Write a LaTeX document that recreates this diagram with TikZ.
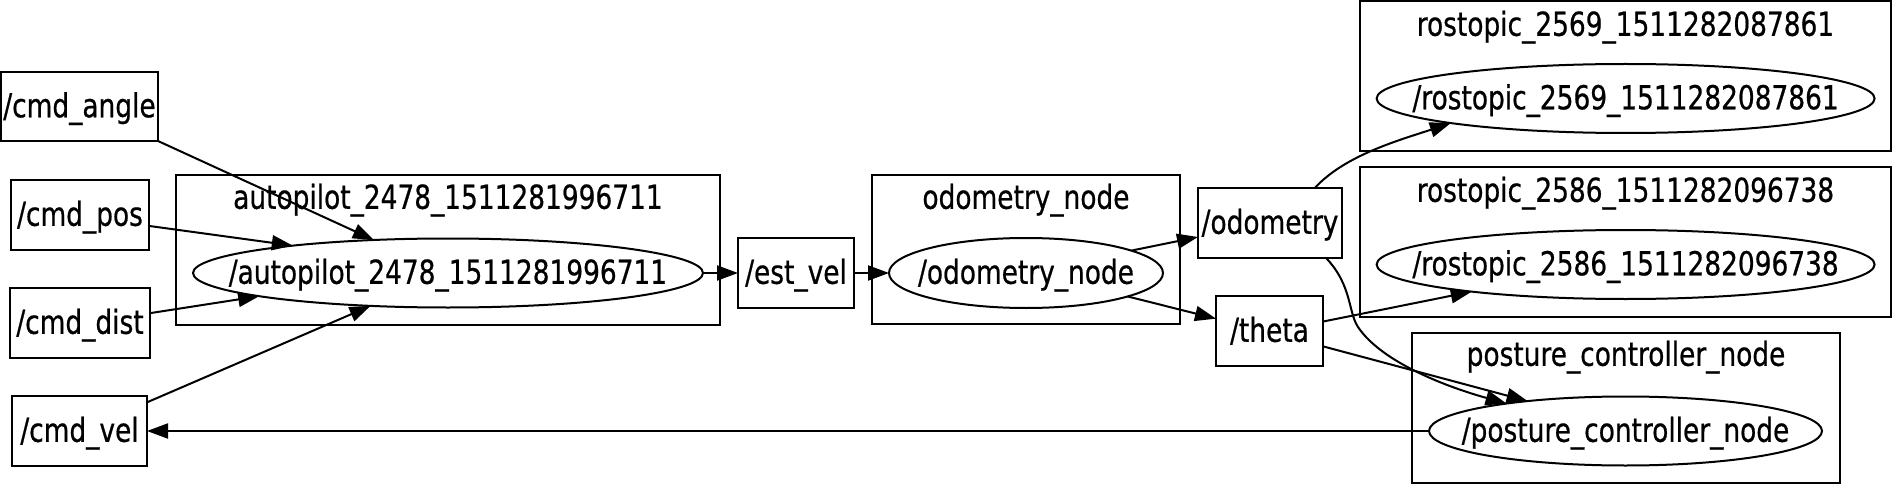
\documentclass[tikz,border=0pt]{standalone}
\usepackage{fontspec}
\setmainfont{DejaVu Sans Condensed}[FakeStretch=0.89,FakeBold=0.6]
\usetikzlibrary{arrows.meta,shapes.geometric}
\begin{document}
\begin{tikzpicture}[x=1pt,y=-1pt,
  every node/.style={font=\fontsize{33}{36}\selectfont, inner sep=0pt, outer sep=0pt,
    text height=27pt, text depth=5.4pt},
  topic/.style={draw, line width=2pt, rectangle},
  rosnode/.style={draw, line width=2pt, ellipse},
  cluster/.style={draw, line width=2pt, rectangle},
  conn/.style={line width=2pt, -{Triangle[length=21pt,width=15pt]}},
]
\useasboundingbox (0,0) rectangle (1893,484);

% clusters
\node[cluster, minimum width=544pt, minimum height=150pt] (autocl) at (448,250) {};
\node (autolbl) at (448,198) {autopilot\_2478\_1511281996711};
\node[cluster, minimum width=308pt, minimum height=149pt] (odomcl) at (1026,249.5) {};
\node (odomlbl) at (1026,198) {odometry\_node};
\node[cluster, minimum width=531pt, minimum height=150pt] (rosAcl) at (1625.5,76) {};
\node (rosAlbl) at (1625.5,25) {rostopic\_2569\_1511282087861};
\node[cluster, minimum width=531pt, minimum height=150pt] (rosBcl) at (1625.5,242) {};
\node (rosBlbl) at (1625.5,191) {rostopic\_2586\_1511282096738};
\node[cluster, minimum width=428pt, minimum height=150pt] (postcl) at (1626,408) {};
\node (postlbl) at (1626,355) {posture\_controller\_node};

% ros nodes
\node[rosnode, minimum width=510pt, minimum height=69pt] (auto) at (448,273) {\makebox[0pt]{/autopilot\_2478\_1511281996711}};
\node[rosnode, minimum width=274pt, minimum height=70pt] (odom) at (1026,273) {\makebox[0pt]{/odometry\_node}};
\node[rosnode, minimum width=498pt, minimum height=69pt] (rosA) at (1625.6,98.5) {\makebox[0pt]{/rostopic\_2569\_1511282087861}};
\node[rosnode, minimum width=498pt, minimum height=69pt] (rosB) at (1625.6,264.5) {\makebox[0pt]{/rostopic\_2586\_1511282096738}};
\node[rosnode, minimum width=393pt, minimum height=69pt] (post) at (1625.5,431) {\makebox[0pt]{/posture\_controller\_node}};

% topics
\node[topic, minimum width=157pt, minimum height=69pt] (cmdangle) at (79.5,106.5) {\makebox[0pt]{/cmd\_angle}};
\node[topic, minimum width=138pt, minimum height=70pt] (cmdpos) at (80,215) {\makebox[0pt]{/cmd\_pos}};
\node[topic, minimum width=140pt, minimum height=70pt] (cmddist) at (80,323) {\makebox[0pt]{/cmd\_dist}};
\node[topic, minimum width=135pt, minimum height=70pt] (cmdvel) at (79.5,431) {\makebox[0pt]{/cmd\_vel}};
\node[topic, minimum width=116pt, minimum height=70pt] (estvel) at (796,273) {\makebox[0pt]{/est\_vel}};
\node[topic, minimum width=144pt, minimum height=70pt] (odometry) at (1270,223) {\makebox[0pt]{/odometry}};
\node[topic, minimum width=107pt, minimum height=70pt] (theta) at (1269.5,331) {\makebox[0pt]{/theta}};

% connectors
\draw[conn] (cmdangle.south east) -- (auto.156);
\draw[conn] (cmdpos.351) -- (auto.170.6);
\draw[conn] (cmddist.8) -- (auto.187);
\draw[conn] (cmdvel.23.3) -- (auto.203);
\draw[conn] (auto.east) -- (estvel.west);
\draw[conn] (estvel.east) -- (odom.west);
\draw[conn] (odom.12) -- (odometry.191);
\draw[conn] (odom.347) -- (theta.167.4);
\draw[conn] (odometry.38) .. controls (1345,155) and (1400,140) .. (rosA.188.7);
\draw[conn] (odometry.328.5) .. controls (1352,285) and (1348,312) .. (1358,327)
   .. controls (1380,360) and (1440,385) .. (post.167.9);
\draw[conn] (theta.10.6) -- (rosB.190);
\draw[conn] (theta.344.3) -- (post.163.9);
\draw[conn] (post.west) -- (cmdvel.east);
\end{tikzpicture}
\end{document}
